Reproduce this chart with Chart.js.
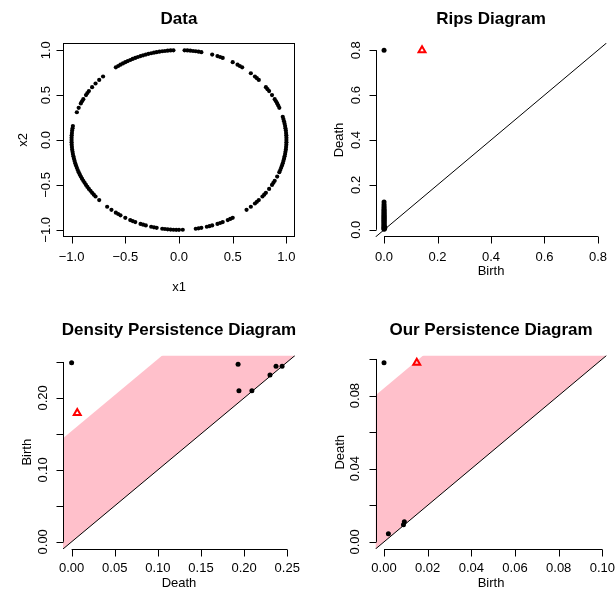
<!DOCTYPE html>
<html>
<head>
<meta charset="utf-8">
<script src="https://cdn.jsdelivr.net/npm/chart.js@4.4.0/dist/chart.umd.min.js"></script>
<style>
html, body { margin: 0; padding: 0; background: #fff; }
#wrap { position: relative; width: 616px; height: 591px; overflow: hidden; }
.panel { position: absolute; }
</style>
</head>
<body>
<div id="wrap">
    <div class="panel" style="left:0;top:0"><canvas id="pData" width="308" height="295"></canvas></div>
    <div class="panel" style="left:308px;top:0"><canvas id="pRips" width="308" height="295"></canvas></div>
    <div class="panel" style="left:0;top:295px"><canvas id="pDens" width="308" height="296"></canvas></div>
    <div class="panel" style="left:308px;top:295px"><canvas id="pOur" width="308" height="296"></canvas></div>
</div>
<script>
// ---- datos ----
var circleX = [1.000, 0.999, 0.995, 0.988, 0.978, 0.966, 0.934, 0.914, 0.891, 0.866, 0.839, 0.809, 0.743, 0.707, 0.669, 0.588, 0.545, 0.500, 0.407, 0.358, 0.309, 0.208, 0.156, 0.105, 0.052,
    -0.052, -0.105, -0.156, -0.208, -0.259, -0.309, -0.358, -0.407, -0.454, -0.500, -0.545, -0.588, -0.707, -0.743, -0.777, -0.809, -0.839, -0.866, -0.891, -0.914, -0.934, -0.951, -0.988, -0.995, -0.999, -1.000,
    -0.999, -0.995, -0.988, -0.978, -0.966, -0.951, -0.934, -0.914, -0.891, -0.866, -0.839, -0.809, -0.777, -0.743, -0.669, -0.629, -0.588, -0.545, -0.500, -0.454, -0.407, -0.358, -0.309, -0.259, -0.208, -0.156, -0.105, -0.052, 0.000, 0.035,
    0.156, 0.208, 0.259, 0.309, 0.358, 0.407, 0.454, 0.500, 0.629, 0.669, 0.707, 0.743, 0.777, 0.809, 0.839, 0.866, 0.891, 0.914, 0.934, 0.951, 0.966, 0.978, 0.988, 0.995, 0.999,
    1.000, 0.997, 0.991, 0.983, 0.972, 0.924, 0.903, 0.824, 0.725, 0.566, 0.383, 0.182, 0.131, 0.078,
    -0.078, -0.131, -0.182, -0.233, -0.284, -0.334, -0.383, -0.431, -0.477, -0.522, -0.566, -0.853, -0.903, -0.991, -0.997, -1.000,
    -1.000, -0.997, -0.991, -0.983, -0.972, -0.959, -0.943, -0.924, -0.903, -0.879, -0.853, -0.824, -0.793, -0.566, -0.431, -0.334, -0.233, -0.131, -0.078, -0.026,
    0.182, 0.284, 0.383, 0.477, 0.725, 0.793, 0.879, 0.943, 0.959, 0.972, 0.983, 0.991, 0.997, 1.000];
var circleY = [0.000, 0.052, 0.105, 0.156, 0.208, 0.259, 0.358, 0.407, 0.454, 0.500, 0.545, 0.588, 0.669, 0.707, 0.743, 0.809, 0.839, 0.866, 0.914, 0.934, 0.951, 0.978, 0.988, 0.995, 0.999,
    0.999, 0.995, 0.988, 0.978, 0.966, 0.951, 0.934, 0.914, 0.891, 0.866, 0.839, 0.809, 0.707, 0.669, 0.629, 0.588, 0.545, 0.500, 0.454, 0.407, 0.358, 0.309, 0.156, 0.105, 0.052, 0.000,
    -0.052, -0.105, -0.156, -0.208, -0.259, -0.309, -0.358, -0.407, -0.454, -0.500, -0.545, -0.588, -0.629, -0.669, -0.743, -0.777, -0.809, -0.839, -0.866, -0.891, -0.914, -0.934, -0.951, -0.966, -0.978, -0.988, -0.995, -0.999, -1.000, -0.999,
    -0.988, -0.978, -0.966, -0.951, -0.934, -0.914, -0.891, -0.866, -0.777, -0.743, -0.707, -0.669, -0.629, -0.588, -0.545, -0.500, -0.454, -0.407, -0.358, -0.309, -0.259, -0.208, -0.156, -0.105, -0.052,
    0.026, 0.078, 0.131, 0.182, 0.233, 0.383, 0.431, 0.566, 0.688, 0.824, 0.924, 0.983, 0.991, 0.997,
    0.997, 0.991, 0.983, 0.972, 0.959, 0.943, 0.924, 0.903, 0.879, 0.853, 0.824, 0.522, 0.431, 0.131, 0.078, 0.026,
    -0.026, -0.078, -0.131, -0.182, -0.233, -0.284, -0.334, -0.383, -0.431, -0.477, -0.522, -0.566, -0.609, -0.824, -0.903, -0.943, -0.972, -0.991, -0.997, -1.000,
    -0.983, -0.959, -0.924, -0.879, -0.688, -0.609, -0.477, -0.334, -0.284, -0.233, -0.182, -0.131, -0.078, -0.026];

var ripsBirth = [0, 0, 0, 0, 0, 0, 0, 0, 0, 0, 0, 0, 0, 0, 0, 0, 0, 0, 0, 0, 0, 0, 0, 0, 0, 0, 0, 0, 0.003, 0.002];
var ripsDeath = [0.80, 0.124, 0.113, 0.104, 0.097, 0.091, 0.086, 0.081, 0.076, 0.071, 0.067, 0.063, 0.059, 0.055, 0.051, 0.047, 0.043, 0.039, 0.035, 0.031, 0.027, 0.023, 0.019, 0.015, 0.011, 0.008, 0.005, 0.003, 0.010, 0.006];
var ripsLoopBirth = [0.142];
var ripsLoopDeath = [0.80];

var densX = [0.000, 0.193, 0.194, 0.209, 0.230, 0.237, 0.244];
var densY = [0.249, 0.247, 0.210, 0.210, 0.232, 0.244, 0.244];
var densLoopX = [0.0065];
var densLoopY = [0.179];
var densBand = 0.154;

var ourBirth = [0.000, 0.002, 0.0089, 0.0093];
var ourDeath = [0.098, 0.0044, 0.0093, 0.011];
var ourLoopBirth = [0.015];
var ourLoopDeath = [0.098];
var ourBand = 0.084;

// ticks
var dataTicks = [-1.0, -0.5, 0.0, 0.5, 1.0];
var dataTickLabels = ['\u22121.0', '\u22120.5', '0.0', '0.5', '1.0'];
var ripsTicks = [0.0, 0.2, 0.4, 0.6, 0.8];
var ripsTickLabels = ['0.0', '0.2', '0.4', '0.6', '0.8'];
var densXTicks = [0.00, 0.05, 0.10, 0.15, 0.20, 0.25];
var densXTickLabels = ['0.00', '0.05', '0.10', '0.15', '0.20', '0.25'];
var densYTicks = [0.00, 0.05, 0.10, 0.15, 0.20, 0.25];
var densYTickLabels = ['0.00', '', '0.10', '', '0.20', ''];
var ourXTicks = [0.00, 0.02, 0.04, 0.06, 0.08, 0.10];
var ourXTickLabels = ['0.00', '0.02', '0.04', '0.06', '0.08', '0.10'];
var ourYTicks = [0.00, 0.02, 0.04, 0.06, 0.08, 0.10];
var ourYTickLabels = ['0.00', '', '0.04', '', '0.08', ''];

var FONT = '"Liberation Sans", Arial, Helvetica, sans-serif';

function pares(xs, ys) {
    return xs.map(function (x, i) { return { x: x, y: ys[i] }; });
}

// ejes estilo R dibujados a mano
var rAxes = {
    id: 'rAxes',
    afterDraw: function (chart, args, o) {
        var ctx = chart.ctx;
        var a = chart.chartArea;
        var xs = chart.scales.x, ys = chart.scales.y;
        ctx.save();
        ctx.strokeStyle = '#000';
        ctx.fillStyle = '#000';
        ctx.lineWidth = 1;
        if (o.box) {
            ctx.strokeRect(Math.round(a.left) + 0.5, Math.round(a.top) + 0.5,
                Math.round(a.right - a.left) - 1, Math.round(a.bottom - a.top) - 1);
        }
        // eje x
        var yb = Math.round(a.bottom + o.xGap) - 0.5;
        ctx.beginPath();
        ctx.moveTo(xs.getPixelForValue(o.xTicks[0]), yb);
        ctx.lineTo(xs.getPixelForValue(o.xTicks[o.xTicks.length - 1]), yb);
        o.xTicks.forEach(function (t) {
            var px = Math.round(xs.getPixelForValue(t)) + 0.5;
            ctx.moveTo(px, yb);
            ctx.lineTo(px, yb + 7);
        });
        // eje y
        var xl = Math.round(a.left - o.yGap) + 0.5;
        ctx.moveTo(xl, ys.getPixelForValue(o.yTicks[0]));
        ctx.lineTo(xl, ys.getPixelForValue(o.yTicks[o.yTicks.length - 1]));
        o.yTicks.forEach(function (t) {
            var py = Math.round(ys.getPixelForValue(t)) + 0.5;
            ctx.moveTo(xl, py);
            ctx.lineTo(xl - 7, py);
        });
        ctx.stroke();

        ctx.textAlign = 'center';
        ctx.textBaseline = 'middle';
        ctx.font = o.tickSize + 'px ' + FONT;
        o.xTicks.forEach(function (t, i) {
            ctx.fillText(o.xLabels[i], xs.getPixelForValue(t), a.bottom + o.xLabelOff);
        });
        o.yTicks.forEach(function (t, i) {
            if (!o.yLabels[i]) return;
            ctx.save();
            ctx.translate(a.left - o.yLabelOff, ys.getPixelForValue(t));
            ctx.rotate(-Math.PI / 2);
            ctx.fillText(o.yLabels[i], 0, 0);
            ctx.restore();
        });

        ctx.font = o.labSize + 'px ' + FONT;
        ctx.fillText(o.xTitle, (a.left + a.right) / 2, a.bottom + o.xTitleOff);
        ctx.save();
        ctx.translate(a.left - o.yTitleOff, (a.top + a.bottom) / 2);
        ctx.rotate(-Math.PI / 2);
        ctx.fillText(o.yTitle, 0, 0);
        ctx.restore();

        ctx.font = 'bold 17px ' + FONT;
        ctx.fillText(o.title, (a.left + a.right) / 2, o.titleY);
        ctx.restore();
    }
};

function opciones(pad, xlim, ylim, ejes) {
    return {
        responsive: false,
        animation: false,
        events: [],
        layout: { padding: pad },
        scales: {
            x: { type: 'linear', min: xlim[0], max: xlim[1], display: false },
            y: { type: 'linear', min: ylim[0], max: ylim[1], display: false }
        },
        plugins: {
            legend: { display: false },
            tooltip: { enabled: false },
            filler: { drawTime: 'beforeDatasetsDraw' },
            rAxes: ejes
        }
    };
}

function puntosNegros(data, r) {
    return { data: data, pointRadius: r, pointBackgroundColor: '#000', pointBorderColor: '#000', pointBorderWidth: 0, showLine: false };
}
function triangulo(data) {
    return { data: data, pointStyle: 'triangle', pointRadius: 4, pointBackgroundColor: 'rgba(0,0,0,0)', pointBorderColor: '#ff0000', pointBorderWidth: 2, showLine: false };
}
function diagonal() {
    return { data: [{ x: -1, y: -1 }, { x: 2, y: 2 }], showLine: true, borderColor: '#000', borderWidth: 1, pointRadius: 0, fill: false };
}
function banda(c) {
    return { data: [{ x: -1, y: -1 + c }, { x: 2, y: 2 + c }], showLine: true, borderWidth: 0, borderColor: 'rgba(0,0,0,0)', pointRadius: 0, fill: '-1', backgroundColor: '#ffc0cb' };
}

// Data
new Chart(document.getElementById('pData'), {
    type: 'scatter',
    data: { datasets: [puntosNegros(pares(circleX, circleY), 2.1)] },
    options: opciones({ left: 63, right: 13, top: 43, bottom: 58 }, [-1.08, 1.08], [-1.08, 1.08], {
        box: true, title: 'Data', titleY: 19,
        xTicks: dataTicks, xLabels: dataTickLabels, yTicks: dataTicks, yLabels: dataTickLabels,
        xTitle: 'x1', yTitle: 'x2', xGap: 0, yGap: 0, tickSize: 13, labSize: 13,
        xLabelOff: 20, xTitleOff: 50, yLabelOff: 17, yTitleOff: 40
    }),
    plugins: [rAxes]
});

// Rips Diagram
new Chart(document.getElementById('pRips'), {
    type: 'scatter',
    data: {
        datasets: [
            puntosNegros(pares(ripsBirth, ripsDeath), 2.5),
            triangulo(pares(ripsLoopBirth, ripsLoopDeath)),
            diagonal()
        ]
    },
    options: opciones({ left: 67.5, right: 9.5, top: 43, bottom: 58 }, [-0.032, 0.832], [-0.032, 0.832], {
        box: false, title: 'Rips Diagram', titleY: 19,
        xTicks: ripsTicks, xLabels: ripsTickLabels, yTicks: ripsTicks, yLabels: ripsTickLabels,
        xTitle: 'Birth', yTitle: 'Death', xGap: 0, yGap: 0, tickSize: 13, labSize: 13,
        xLabelOff: 20, xTitleOff: 34, yLabelOff: 19, yTitleOff: 36
    }),
    plugins: [rAxes]
});

// Density Persistence Diagram
new Chart(document.getElementById('pDens'), {
    type: 'scatter',
    data: {
        datasets: [
            puntosNegros(pares(densX, densY), 2.5),
            triangulo(pares(densLoopX, densLoopY)),
            diagonal(),
            banda(densBand)
        ]
    },
    options: opciones({ left: 63, right: 13, top: 60.5, bottom: 42 }, [-0.01, 0.259], [-0.01, 0.259], {
        box: false, title: 'Density Persistence Diagram', titleY: 35,
        xTicks: densXTicks, xLabels: densXTickLabels, yTicks: densYTicks, yLabels: densYTickLabels,
        xTitle: 'Death', yTitle: 'Birth', xGap: 1, yGap: 0, tickSize: 13, labSize: 13,
        xLabelOff: 19, xTitleOff: 34, yLabelOff: 20, yTitleOff: 36
    }),
    plugins: [rAxes]
});

// Our Persistence Diagram
new Chart(document.getElementById('pOur'), {
    type: 'scatter',
    data: {
        datasets: [
            puntosNegros(pares(ourBirth, ourDeath), 2.5),
            triangulo(pares(ourLoopBirth, ourLoopDeath)),
            diagonal(),
            banda(ourBand)
        ]
    },
    options: opciones({ left: 67.5, right: 9.5, top: 60.5, bottom: 42 }, [-0.0039, 0.1019], [-0.0039, 0.1019], {
        box: false, title: 'Our Persistence Diagram', titleY: 35,
        xTicks: ourXTicks, xLabels: ourXTickLabels, yTicks: ourYTicks, yLabels: ourYTickLabels,
        xTitle: 'Birth', yTitle: 'Death', xGap: 1, yGap: 0, tickSize: 13, labSize: 13,
        xLabelOff: 19, xTitleOff: 34, yLabelOff: 20, yTitleOff: 35.5
    }),
    plugins: [rAxes]
});
</script>
</body>
</html>
